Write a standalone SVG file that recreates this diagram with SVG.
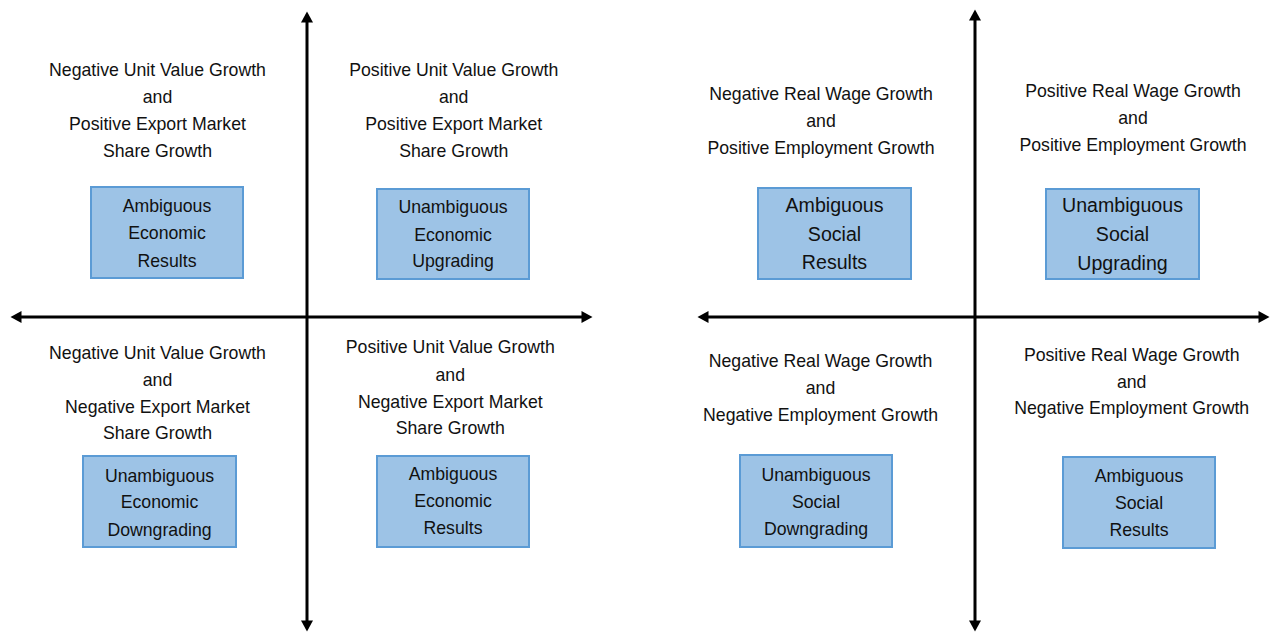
<svg xmlns="http://www.w3.org/2000/svg" width="1273" height="633" viewBox="0 0 1273 633">
<defs>
<marker id="ah" markerUnits="userSpaceOnUse" markerWidth="12" markerHeight="12" viewBox="0 0 11 12" refX="0.5" refY="6" orient="auto-start-reverse">
<path d="M0,0 L11,6 L0,12 z" fill="#000"/>
</marker>
<style>
text{font-family:"Liberation Sans",Arial,sans-serif;fill:#111;text-anchor:middle}
.q{font-size:17.7px}
.b{font-size:17.7px}
.bl{font-size:19.6px}
.box{fill:#9DC3E6;stroke:#5B9BD5;stroke-width:2}
.ax{stroke:#000;stroke-width:3;fill:none}
</style>
</defs>
<rect width="1273" height="633" fill="#fff"/>
<g id="connectors">
<line class="ax" x1="21" y1="317" x2="582" y2="317" marker-start="url(#ah)" marker-end="url(#ah)"/>
<line class="ax" x1="307" y1="22" x2="307" y2="621" marker-start="url(#ah)" marker-end="url(#ah)"/>
<line class="ax" x1="708" y1="317" x2="1259" y2="317" marker-start="url(#ah)" marker-end="url(#ah)"/>
<line class="ax" x1="975" y1="20" x2="975" y2="621" marker-start="url(#ah)" marker-end="url(#ah)"/>
</g>
<g id="q-econ-tl">
<text class="q" x="157.5" y="76">Negative Unit Value Growth</text>
<text class="q" x="157.5" y="103">and</text>
<text class="q" x="157.5" y="130">Positive Export Market</text>
<text class="q" x="157.5" y="157">Share Growth</text>
</g>
<g id="box-econ-tl">
<rect class="box" x="91" y="187" width="152" height="91"/>
<text class="b" x="167" y="212">Ambiguous</text>
<text class="b" x="167" y="239">Economic</text>
<text class="b" x="167" y="266.5">Results</text>
</g>
<g id="q-econ-tr">
<text class="q" x="453.7" y="76">Positive Unit Value Growth</text>
<text class="q" x="453.7" y="102.5">and</text>
<text class="q" x="453.7" y="129.5">Positive Export Market</text>
<text class="q" x="453.7" y="156.5">Share Growth</text>
</g>
<g id="box-econ-tr">
<rect class="box" x="377" y="189" width="152" height="90"/>
<text class="b" x="453" y="213">Unambiguous</text>
<text class="b" x="453" y="240.5">Economic</text>
<text class="b" x="453" y="266.5">Upgrading</text>
</g>
<g id="q-econ-bl">
<text class="q" x="157.5" y="359">Negative Unit Value Growth</text>
<text class="q" x="157.5" y="386">and</text>
<text class="q" x="157.5" y="412.7">Negative Export Market</text>
<text class="q" x="157.5" y="439.3">Share Growth</text>
</g>
<g id="box-econ-bl">
<rect class="box" x="83" y="456" width="153" height="91"/>
<text class="b" x="159.5" y="481.7">Unambiguous</text>
<text class="b" x="159.5" y="508.3">Economic</text>
<text class="b" x="159.5" y="535.7">Downgrading</text>
</g>
<g id="q-econ-br">
<text class="q" x="450.3" y="353.3">Positive Unit Value Growth</text>
<text class="q" x="450.3" y="381">and</text>
<text class="q" x="450.3" y="407.7">Negative Export Market</text>
<text class="q" x="450.3" y="434.3">Share Growth</text>
</g>
<g id="box-econ-br">
<rect class="box" x="377" y="456" width="152" height="91"/>
<text class="b" x="453" y="480">Ambiguous</text>
<text class="b" x="453" y="507.3">Economic</text>
<text class="b" x="453" y="534.3">Results</text>
</g>
<g id="q-soc-tl">
<text class="q" x="821" y="100">Negative Real Wage Growth</text>
<text class="q" x="821" y="126.7">and</text>
<text class="q" x="821" y="154">Positive Employment Growth</text>
</g>
<g id="box-soc-tl">
<rect class="box" x="758" y="188" width="153" height="91"/>
<text class="bl" x="834.5" y="211.7">Ambiguous</text>
<text class="bl" x="834.5" y="240.5">Social</text>
<text class="bl" x="834.5" y="269">Results</text>
</g>
<g id="q-soc-tr">
<text class="q" x="1133" y="96.7">Positive Real Wage Growth</text>
<text class="q" x="1133" y="123.5">and</text>
<text class="q" x="1133" y="150.7">Positive Employment Growth</text>
</g>
<g id="box-soc-tr">
<rect class="box" x="1046" y="189" width="153" height="90"/>
<text class="bl" x="1122.5" y="212">Unambiguous</text>
<text class="bl" x="1122.5" y="241">Social</text>
<text class="bl" x="1122.5" y="269.5">Upgrading</text>
</g>
<g id="q-soc-bl">
<text class="q" x="820.5" y="366.7">Negative Real Wage Growth</text>
<text class="q" x="820.5" y="394">and</text>
<text class="q" x="820.5" y="420.7">Negative Employment Growth</text>
</g>
<g id="box-soc-bl">
<rect class="box" x="740" y="455" width="152" height="92"/>
<text class="b" x="816" y="481">Unambiguous</text>
<text class="b" x="816" y="507.7">Social</text>
<text class="b" x="816" y="535">Downgrading</text>
</g>
<g id="q-soc-br">
<text class="q" x="1131.7" y="360.7">Positive Real Wage Growth</text>
<text class="q" x="1131.7" y="387.7">and</text>
<text class="q" x="1131.7" y="414.3">Negative Employment Growth</text>
</g>
<g id="box-soc-br">
<rect class="box" x="1063" y="457" width="152" height="91"/>
<text class="b" x="1139" y="481.7">Ambiguous</text>
<text class="b" x="1139" y="509">Social</text>
<text class="b" x="1139" y="536">Results</text>
</g>
</svg>
